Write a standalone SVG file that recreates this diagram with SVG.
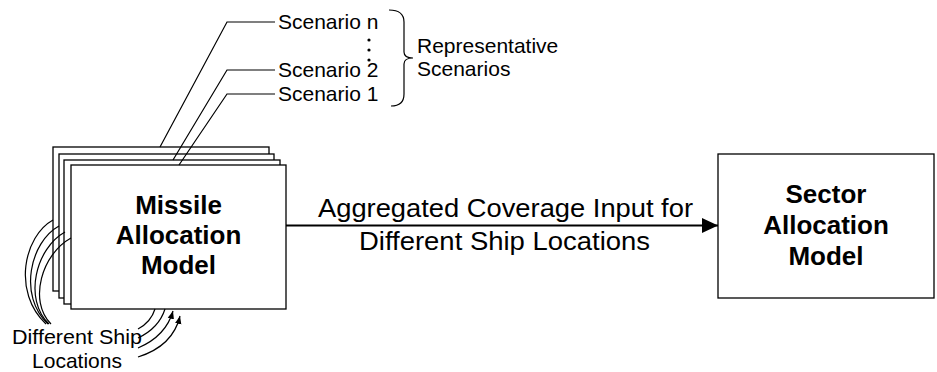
<svg xmlns="http://www.w3.org/2000/svg" width="937" height="372" viewBox="0 0 937 372">
<defs>
<style>
.box{fill:#fff;stroke:#000;stroke-width:1.3}
.ln{fill:none;stroke:#000;stroke-width:1.2}
.t{font-family:"Liberation Sans",Arial,sans-serif;fill:#000}
.s{font-size:21px}
.b{font-size:26px;font-weight:bold;text-anchor:middle}
.m{font-size:26px;text-anchor:middle}
</style>
<marker id="ah" viewBox="0 0 10 10" refX="10" refY="5" markerWidth="8" markerHeight="8" markerUnits="userSpaceOnUse" orient="auto">
<path d="M0,1 L10,5 L0,9 z" fill="#000"/>
</marker>
<marker id="big" viewBox="0 0 16 16" refX="16" refY="8" markerWidth="16" markerHeight="16" markerUnits="userSpaceOnUse" orient="auto">
<path d="M0,0.5 L16,8 L0,15.5 z" fill="#000"/>
</marker>
</defs>
<g id="missile-stack">
<rect class="box" x="53" y="147" width="216" height="144"/>
<rect class="box" x="59" y="154" width="215" height="144"/>
<rect class="box" x="64" y="160" width="216" height="144"/>
<rect class="box" x="71" y="165" width="215" height="144"/>
<text class="t b" x="178.5" y="214">Missile</text>
<text class="t b" x="178.5" y="244">Allocation</text>
<text class="t b" x="178.5" y="274">Model</text>
</g>
<g id="sector">
<rect class="box" x="718" y="154" width="216" height="144"/>
<text class="t b" x="826" y="203">Sector</text>
<text class="t b" x="826" y="234">Allocation</text>
<text class="t b" x="826" y="265">Model</text>
</g>
<g id="scenarios">
<text class="t s" x="278" y="29">Scenario n</text>
<text class="t s" x="278" y="77">Scenario 2</text>
<text class="t s" x="278" y="101">Scenario 1</text>
<circle cx="369" cy="40" r="1.6"/>
<circle cx="369" cy="50" r="1.6"/>
<circle cx="369" cy="60" r="1.6"/>
<path class="ln" d="M389,10 Q404,10 404,22 L404,52 Q404,58 413,58 Q404,58 404,64 L404,94 Q404,106 391,106"/>
<text class="t s" x="417" y="53">Representative</text>
<text class="t s" x="417" y="76">Scenarios</text>
</g>
<g id="ship-locations">
<text class="t s" x="12" y="344" textLength="130" lengthAdjust="spacingAndGlyphs">Different Ship</text>
<text class="t s" x="32" y="368" textLength="90" lengthAdjust="spacingAndGlyphs">Locations</text>
</g>
<g id="connectors">
<path class="ln" d="M160,147 L227,22 L275,22"/>
<path class="ln" d="M173,160 L227,70 L275,70"/>
<path class="ln" d="M179,165 L227,94 L275,94"/>
<path class="ln" d="M53,220 C24,236 12,292 46,324"/>
<path class="ln" d="M59,226 C30,242 18,296 48,324"/>
<path class="ln" d="M65,232 C36,248 23,299 49,324"/>
<path class="ln" d="M71,238 C42,254 28,301 51,324"/>
<path class="ln" d="M138,329 Q151,322 155,309"/>
<path class="ln" d="M138,338 Q159,328 165,309"/>
<path class="ln" d="M138,348 Q166,336 173,311" marker-end="url(#ah)"/>
<path class="ln" d="M138,357 Q173,346 180,316" marker-end="url(#ah)"/>
<line x1="286" y1="225.5" x2="718" y2="225.5" stroke="#000" stroke-width="2" marker-end="url(#big)"/>
<text class="t m" x="505.5" y="217" textLength="375" lengthAdjust="spacingAndGlyphs">Aggregated Coverage Input for</text>
<text class="t m" x="504.5" y="250" textLength="291" lengthAdjust="spacingAndGlyphs">Different Ship Locations</text>
</g>
</svg>
